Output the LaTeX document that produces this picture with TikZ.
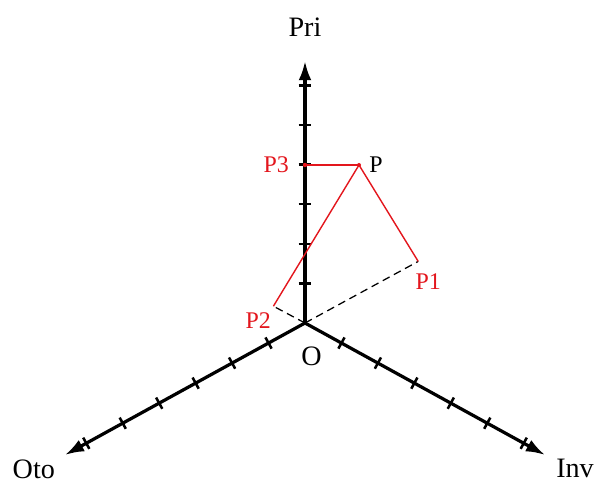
\documentclass[tikz,border=0pt]{standalone}
\usepackage{fontspec}
\setmainfont{Liberation Serif}
\usetikzlibrary{arrows.meta, positioning, calc}
\definecolor{projred}{HTML}{E3161D}

\begin{document}
\begin{tikzpicture}[
    every node/.style={font=\fontsize{17}{20}\selectfont, inner sep=1pt},
    axlbl/.style={font=\fontsize{20}{24}\selectfont},
    axis/.style={-{Latex[length=4.8mm, width=3.2mm]}, line width=2.3pt, black},
    axtick/.style={line width=1.8pt, black},
    proj/.style={draw=projred, line width=1pt},
    guide/.style={dash pattern=on 5.5pt off 3.5pt, line width=0.9pt},
    redlbl/.style={text=projred}
]
    \useasboundingbox (-7.625,-4.0) rectangle (7.25,8.075);

    % origin and axis tips
    \coordinate (O) at (0,0);
    \coordinate (pritip) at (90:6.55);
    \coordinate (ototip) at (208.8:6.85);
    \coordinate (invtip) at (331.2:6.85);

    % point and its three projections
    \coordinate (P) at (1.35,3.95);
    \coordinate (P1) at (2.83,1.54);
    \coordinate (P2) at (-0.79,0.42);
    \coordinate (P3) at (0,3.95);

    \draw[axis] (O) -- (pritip);
    \draw[axis] (O) -- (ototip);
    \draw[axis] (O) -- (invtip);

    \foreach \k in {1,...,6} {
        \draw[axtick] (90:\k*0.99) ++(-0.16,0) -- ++(0.32,0);
        \draw[axtick, rotate=208.8] (\k*1.04,0) ++(0,-0.16) -- ++(0,0.32);
        \draw[axtick, rotate=331.2] (\k*1.04,0) ++(0,-0.16) -- ++(0,0.32);
    }

    \draw[guide] (O) -- (P1);
    \draw[guide] (O) -- (P2);

    \draw[proj] (P3) -- (P);
    \draw[proj] (P) -- (P1);
    \draw[proj] (P) -- (P2);
    \fill[projred] (P3) circle (0.055);
    \fill[projred] (P) circle (0.05);

    \node[axlbl] (pri) at (0,7.4) {Pri};
    \node[axlbl] (oto) at (-6.78,-3.65) {Oto};
    \node[axlbl] (inv) at (6.75,-3.625) {Inv};
    \node[axlbl] (lblO) at (0.16,-0.83) {O};

    \node[right=0.22cm of P] (lblP) {P};
    \node[redlbl, left=0.36cm of P3] (lblP3) {P3};
    \node[redlbl] (lblP1) at ($(P1)+(0.25,-0.5)$) {P1};
    \node[redlbl] (lblP2) at ($(P2)+(-0.38,-0.36)$) {P2};
\end{tikzpicture}
\end{document}
